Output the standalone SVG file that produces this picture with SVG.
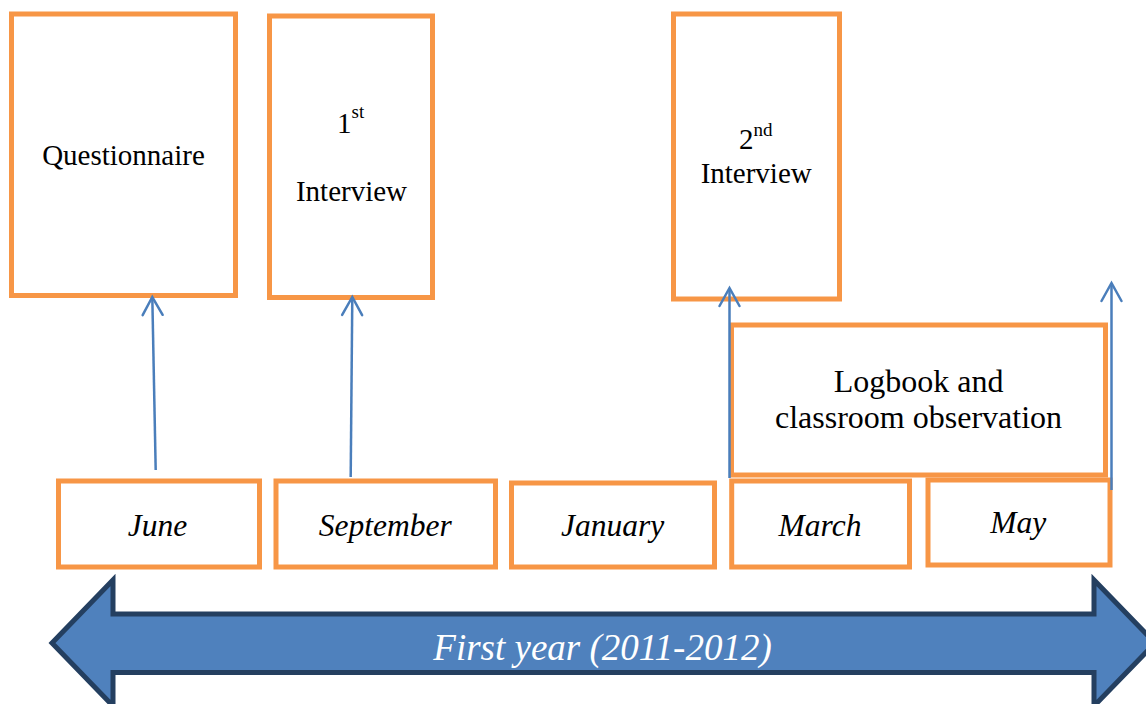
<svg xmlns="http://www.w3.org/2000/svg" width="1146" height="704" viewBox="0 0 1146 704">
<style>
.box{fill:#ffffff;stroke:#f79646;stroke-width:5}
.t{font-family:"Liberation Serif","Times New Roman",serif;fill:#000000}
.up{font-size:29px}
.lg{font-size:32px}
.sup{font-size:19px}
.m{font-size:31.5px;font-style:italic}
.conn{stroke:#4a7ebb;stroke-width:2.5;fill:none}
.head{stroke:#4a7ebb;stroke-width:2.5;fill:none;stroke-linecap:round}
</style>
<defs>
<marker id="open" markerUnits="userSpaceOnUse" orient="auto" refX="0" refY="0" markerWidth="20" markerHeight="22" overflow="visible">
<path d="M-18,-10 L0,0 L-18,10" class="head"/>
</marker>
</defs>
<rect width="1146" height="704" fill="#ffffff"/>

<g id="timeline">
<path d="M52,643 L113,580 L113,614 L1094,614 L1094,580 L1155,643 L1094,706 L1094,672.5 L113,672.5 L113,706 Z" fill="#4f81bd" stroke="#243f60" stroke-width="5"/>
<text class="t" x="602.5" y="660" text-anchor="middle" style="font-size:37px;font-style:italic;fill:#ffffff">First year (2011-2012)</text>
</g>

<g id="questionnaire">
<rect class="box" x="11.5" y="14" width="224" height="281.5"/>
<text class="t up" x="123.5" y="165" text-anchor="middle">Questionnaire</text>
</g>

<g id="interview1">
<rect class="box" x="269.5" y="16" width="163" height="281.5"/>
<text class="t up" x="337" y="133">1<tspan class="sup" dy="-15">st</tspan></text>
<text class="t up" x="351.5" y="201" text-anchor="middle">Interview</text>
</g>

<g id="interview2">
<rect class="box" x="673.5" y="14" width="166" height="285"/>
<text class="t up" x="739" y="149">2<tspan class="sup" dy="-13.5">nd</tspan></text>
<text class="t up" x="756.2" y="183" text-anchor="middle">Interview</text>
</g>

<g id="logbook">
<rect class="box" x="731.5" y="325" width="374" height="150"/>
<text class="t lg" x="918.5" y="391.5" text-anchor="middle">Logbook and</text>
<text class="t lg" x="918.5" y="428" text-anchor="middle">classroom observation</text>
</g>

<g id="june">
<rect class="box" x="58.5" y="481" width="201" height="86"/>
<text class="t m" x="157.5" y="535.7" text-anchor="middle">June</text>
</g>

<g id="september">
<rect class="box" x="276" y="481" width="219.5" height="86"/>
<text class="t m" x="385.3" y="535.7" text-anchor="middle">September</text>
</g>

<g id="january">
<rect class="box" x="511.5" y="483" width="203" height="84"/>
<text class="t m" x="612.6" y="535.7" text-anchor="middle">January</text>
</g>

<g id="march">
<rect class="box" x="731.7" y="481" width="177.8" height="86"/>
<text class="t m" x="820" y="535.7" text-anchor="middle">March</text>
</g>

<g id="may">
<rect class="box" x="928" y="480" width="182" height="85"/>
<text class="t m" x="1018.3" y="533.3" text-anchor="middle">May</text>
</g>

<g id="connectors">
<line class="conn" x1="155.7" y1="470" x2="152.3" y2="297" marker-end="url(#open)"/>
<line class="conn" x1="350.7" y1="477" x2="352.3" y2="297" marker-end="url(#open)"/>
<line class="conn" x1="729.5" y1="478" x2="729.5" y2="288" marker-end="url(#open)"/>
<line class="conn" x1="1111.5" y1="490" x2="1111.5" y2="283" marker-end="url(#open)"/>
</g>
</svg>
